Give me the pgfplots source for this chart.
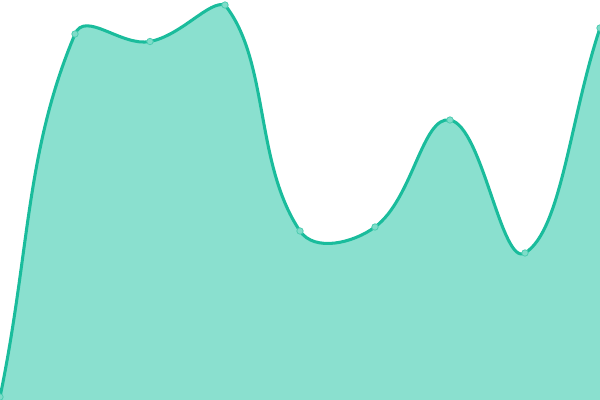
\documentclass[border=0pt]{standalone}
\usepackage{pgfplots}
\pgfplotsset{compat=1.18}
\definecolor{lineC}{HTML}{1ABC9C}
\definecolor{fillC}{HTML}{8AE0CF}
\definecolor{markF}{HTML}{7FDCC9}
\definecolor{markD}{HTML}{4FCDB2}
\makeatletter
% Chart.js-style spline (tension 0.4, distance weighted, control points capped to area)
\newcount\cj@n
\newcount\cj@k
\def\cj@t{0.4}
\def\cj@xmin{0}\def\cj@xmax{432}\def\cj@ymin{0}\def\cj@ymax{288}
\def\cj@point#1{\pgf@process{#1}\global\advance\cj@n by 1
     \expandafter\xdef\csname cj@x\the\cj@n\endcsname{\pgf@sys@tonumber\pgf@x}%
     \expandafter\xdef\csname cj@y\the\cj@n\endcsname{\pgf@sys@tonumber\pgf@y}}
\pgfdeclareplothandler{\pgfplothandlerchartjs}{}{%
  start={\global\cj@n=0 },
  point={\cj@point{##1}},
  jump={},
  end={\cj@emit}
}
\def\cj@ctrl#1{%
  \edef\cj@i{#1}%
  \ifnum\cj@i>1 \edef\cj@p{\the\numexpr\cj@i-1\relax}\else\edef\cj@p{\cj@i}\fi
  \ifnum\cj@i<\cj@n \edef\cj@q{\the\numexpr\cj@i+1\relax}\else\edef\cj@q{\cj@i}\fi
  \edef\cj@xp{\csname cj@x\cj@p\endcsname}\edef\cj@yp{\csname cj@y\cj@p\endcsname}%
  \edef\cj@xc{\csname cj@x\cj@i\endcsname}\edef\cj@yc{\csname cj@y\cj@i\endcsname}%
  \edef\cj@xn{\csname cj@x\cj@q\endcsname}\edef\cj@yn{\csname cj@y\cj@q\endcsname}%
  \pgfmathsetmacro\cj@da{veclen((\cj@xc)-(\cj@xp),(\cj@yc)-(\cj@yp))}%
  \pgfmathsetmacro\cj@db{veclen((\cj@xn)-(\cj@xc),(\cj@yn)-(\cj@yc))}%
  \pgfmathsetmacro\cj@fa{\cj@t*\cj@da/(\cj@da+\cj@db)}%
  \pgfmathsetmacro\cj@fb{\cj@t*\cj@db/(\cj@da+\cj@db)}%
  \pgfmathsetmacro\cj@dx{(\cj@xn)-(\cj@xp)}%
  \pgfmathsetmacro\cj@dy{(\cj@yn)-(\cj@yp)}%
  \pgfmathsetmacro\cj@r{min(max((\cj@xc)-(\cj@fa)*(\cj@dx),\cj@xmin),\cj@xmax)}%
  \expandafter\xdef\csname cj@ax\cj@i\endcsname{\cj@r}%
  \pgfmathsetmacro\cj@r{min(max((\cj@yc)-(\cj@fa)*(\cj@dy),\cj@ymin),\cj@ymax)}%
  \expandafter\xdef\csname cj@ay\cj@i\endcsname{\cj@r}%
  \pgfmathsetmacro\cj@r{min(max((\cj@xc)+(\cj@fb)*(\cj@dx),\cj@xmin),\cj@xmax)}%
  \expandafter\xdef\csname cj@bx\cj@i\endcsname{\cj@r}%
  \pgfmathsetmacro\cj@r{min(max((\cj@yc)+(\cj@fb)*(\cj@dy),\cj@ymin),\cj@ymax)}%
  \expandafter\xdef\csname cj@by\cj@i\endcsname{\cj@r}%
}
\def\cj@ctrlloop{%
  \cj@ctrl{\the\cj@k}%
  \ifnum\cj@k<\cj@n \advance\cj@k by 1 \expandafter\cj@ctrlloop\fi}
\def\cj@segloop{%
  \ifnum\cj@k<\cj@n
    \edef\cj@a{\the\cj@k}\advance\cj@k by 1 \edef\cj@b{\the\cj@k}%
    \pgfpathcurveto
      {\pgfqpoint{\csname cj@bx\cj@a\endcsname pt}{\csname cj@by\cj@a\endcsname pt}}%
      {\pgfqpoint{\csname cj@ax\cj@b\endcsname pt}{\csname cj@ay\cj@b\endcsname pt}}%
      {\pgfqpoint{\csname cj@x\cj@b\endcsname pt}{\csname cj@y\cj@b\endcsname pt}}%
    \expandafter\cj@segloop
  \fi}
\def\cj@emit{%
  \ifnum\cj@n>0
  \cj@k=1 \cj@ctrlloop
  \pgf@plot@first@action{\pgfqpoint{\csname cj@x1\endcsname pt}{\csname cj@y1\endcsname pt}}%
  \cj@k=1 \cj@segloop
  \fi}
\tikzset{chartjs/.code={\let\tikz@plot@handler=\pgfplothandlerchartjs}}
\makeatother
\begin{document}
\begin{tikzpicture}
\begin{axis}[
  name=ax,
  width=432pt, height=288pt, scale only axis,
  disabledatascaling,
  xmin=0, xmax=600, ymin=0, ymax=400,
  axis line style={draw=none}, ticks=none,
  clip=true, clip marker paths=true,
]
\addplot[fill=fillC, draw=none, chartjs] coordinates {
(0,3) (75,366) (150,358.5) (225,395) (300,169) (375,173) (450,280) (525,147) (600,372)
} \closedcycle;
\addplot[lineC, line width=2.2pt, chartjs, mark=*, mark size=2.3pt,
  mark options={fill=markF, draw=markD, line width=0.6pt}] coordinates {
(0,3) (75,366) (150,358.5) (225,395) (300,169) (375,173) (450,280) (525,147) (600,372)
};
\end{axis}
\pgfresetboundingbox
\path (ax.south west) rectangle (ax.north east);
\end{tikzpicture}
\end{document}
